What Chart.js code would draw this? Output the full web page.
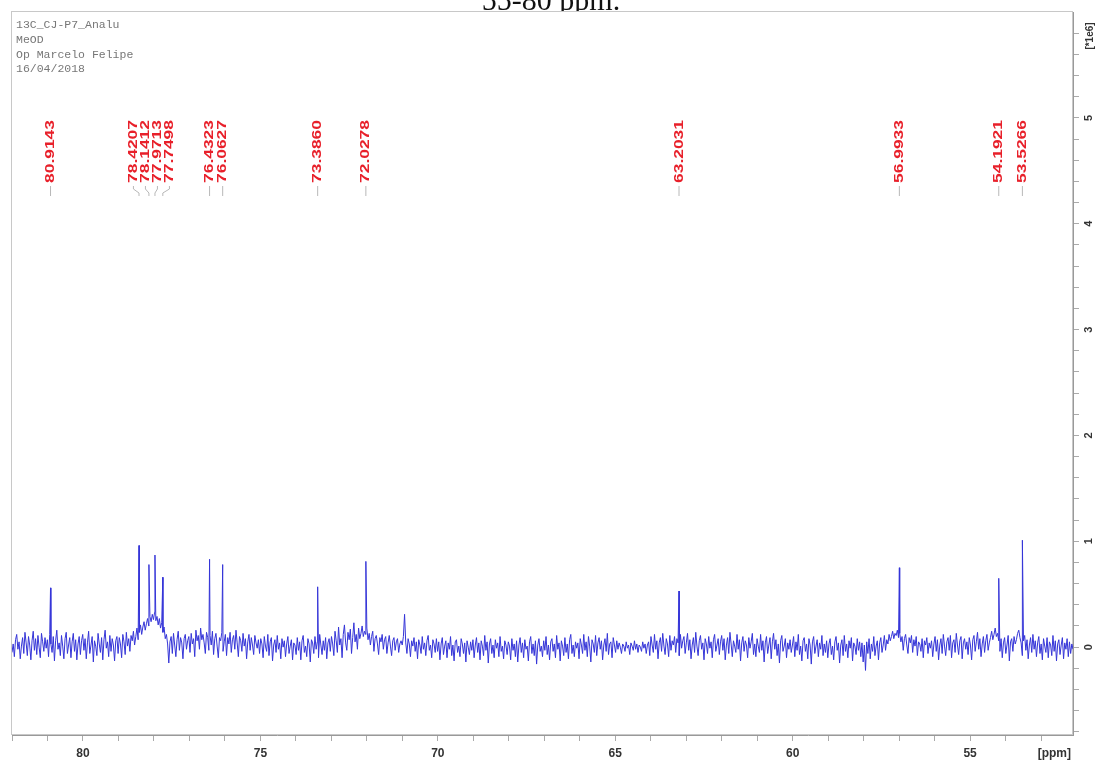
<!DOCTYPE html>
<html>
<head>
<meta charset="utf-8">
<title>13C NMR, 55-80 ppm</title>
<script src="https://cdn.jsdelivr.net/npm/chart.js@4.4.0/dist/chart.umd.min.js"></script>
<style>
  html, body { margin: 0; padding: 0; background: #fff; }
  canvas { display: block; }
</style>
</head>
<body>
<canvas id="spectrum" width="1098" height="764"></canvas>
<script>
// spectral window in ppm (drawn high -> low, left to right)
const ppmLeft = 82.0;
const ppmRight = 52.1;

// intensity window, units of 1e6
const intMin = -0.83;
const intMax = 6.0;

// picked peaks
const peakPpm = [80.9143, 78.4207, 78.1412, 77.9713, 77.7498, 76.4323, 76.0627,
                 73.3860, 72.0278, 63.2031, 56.9933, 54.1921, 53.5266];
const peakHeight = [0.56, 0.96, 0.78, 0.87, 0.66, 0.83, 0.78,
                    0.57, 0.81, 0.53, 0.75, 0.65, 1.01];

// baseline / noise, evenly sampled from ppmLeft to ppmRight (30 points ~ 1 ppm per row)
const baseline = [
  -0.05, 0.03, -0.09, 0.07, 0.12, -0.02, 0.05, -0.11, 0.01, 0.09, -0.06, 0.14, 0.04, -0.08, 0.10, 0.02, -0.12, 0.06, 0.15, -0.03, 0.08, -0.07, 0.11, 0.00, -0.10, 0.13, 0.05, -0.04, 0.09, -0.01,
  0.07, -0.09, 0.12, 0.03, -0.05, 0.10, -0.13, 0.06, 0.16, -0.02, 0.04, -0.08, 0.11, 0.01, -0.11, 0.08, 0.14, -0.06, 0.02, 0.09, -0.10, 0.05, 0.13, -0.04, 0.07, -0.12, 0.03, 0.10, -0.07, 0.06,
  0.12, -0.03, 0.08, -0.11, 0.04, 0.15, -0.06, 0.02, 0.10, -0.14, 0.06, 0.01, -0.08, 0.13, 0.03, -0.05, 0.09, -0.12, 0.07, 0.16, -0.01, 0.05, -0.09, 0.11, -0.04, 0.08, 0.02, -0.13, 0.06, 0.10,
  -0.06, 0.09, 0.03, -0.10, 0.12, 0.05, -0.07, 0.14, 0.01, 0.08, -0.04, 0.11, 0.06, 0.15, 0.02, 0.10, 0.18, 0.07, 0.14, 0.21, 0.12, 0.19, 0.24, 0.16, 0.22, 0.27, 0.20, 0.29, 0.24, 0.31,
  0.26, 0.33, 0.25, 0.29, 0.21, 0.27, 0.18, 0.23, 0.14, 0.19, 0.08, 0.12, 0.03, -0.15, 0.05, 0.10, -0.06, 0.13, 0.02, -0.09, 0.07, 0.15, -0.03, 0.09, 0.04, -0.11, 0.08, 0.12, -0.02, 0.06,
  0.10, -0.05, 0.13, 0.03, 0.08, -0.09, 0.16, 0.06, 0.11, -0.02, 0.18, 0.07, 0.12, 0.04, -0.06, 0.14, 0.09, -0.03, 0.11, 0.02, 0.15, -0.07, 0.08, 0.13, 0.01, -0.10, 0.09, 0.06, 0.14, -0.04,
  0.05, 0.12, -0.08, 0.09, 0.03, 0.14, -0.05, 0.07, 0.11, -0.02, 0.16, 0.04, -0.09, 0.10, 0.06, -0.04, 0.13, 0.01, 0.08, -0.11, 0.05, 0.12, -0.03, 0.09, 0.02, -0.07, 0.11, 0.04, -0.01, 0.07,
  -0.06, 0.08, 0.03, -0.10, 0.10, 0.01, -0.04, 0.12, -0.08, 0.05, 0.09, -0.13, 0.02, 0.07, -0.05, 0.11, -0.02, 0.04, -0.11, 0.08, 0.00, 0.06, -0.09, 0.03, 0.10, -0.06, 0.01, 0.07, -0.12, 0.04,
  0.02, -0.07, 0.09, -0.03, 0.05, -0.12, 0.06, 0.11, -0.05, 0.01, -0.09, 0.08, 0.03, -0.14, 0.07, 0.04, -0.06, 0.10, -0.02, 0.05, -0.10, 0.12, 0.02, -0.07, 0.06, -0.03, 0.09, -0.11, 0.04, 0.08,
  -0.04, 0.10, 0.03, -0.08, 0.15, 0.06, -0.05, 0.19, 0.02, 0.08, -0.10, 0.12, 0.21, 0.04, -0.03, 0.14, 0.07, 0.17, -0.06, 0.09, 0.23, 0.05, 0.12, -0.02, 0.18, 0.08, 0.13, 0.20, 0.10, 0.15,
  0.12, 0.18, 0.07, 0.13, 0.02, 0.10, 0.15, -0.04, 0.08, 0.11, 0.03, -0.07, 0.09, 0.05, 0.12, -0.02, 0.07, 0.10, -0.06, 0.04, 0.11, 0.01, -0.08, 0.06, 0.09, -0.03, 0.05, 0.08, -0.05, 0.03,
  0.06, 0.02, 0.10, 0.31, 0.04, -0.06, 0.08, 0.03, -0.09, 0.06, 0.01, 0.09, -0.04, 0.05, -0.11, 0.07, 0.02, -0.06, 0.10, -0.02, 0.04, -0.08, 0.06, 0.11, -0.03, 0.02, -0.10, 0.07, 0.03, -0.05,
  0.08, -0.04, 0.05, -0.12, 0.03, 0.09, -0.07, 0.01, 0.06, -0.10, 0.04, -0.02, 0.10, -0.08, 0.02, -0.13, 0.05, 0.07, -0.05, 0.01, -0.09, 0.08, 0.03, -0.06, 0.04, -0.14, 0.06, 0.00, -0.07, 0.05,
  -0.03, 0.07, -0.10, 0.02, 0.09, -0.05, 0.04, -0.12, 0.06, 0.01, -0.08, 0.11, -0.03, 0.05, -0.15, 0.03, 0.08, -0.06, 0.02, -0.10, 0.07, -0.01, 0.04, -0.09, 0.10, -0.04, 0.01, -0.11, 0.06, 0.02,
  -0.07, 0.05, 0.01, -0.12, 0.08, -0.03, 0.03, -0.09, 0.06, -0.14, 0.02, 0.09, -0.05, 0.04, -0.10, 0.07, -0.02, 0.01, -0.13, 0.05, 0.10, -0.06, 0.03, -0.08, 0.06, -0.16, 0.02, 0.08, -0.04, 0.01,
  -0.09, 0.06, -0.03, 0.10, -0.07, 0.02, -0.12, 0.05, 0.08, -0.04, 0.03, -0.10, 0.11, -0.02, 0.04, -0.13, 0.06, 0.01, -0.08, 0.09, -0.05, 0.03, -0.11, 0.07, 0.12, -0.06, 0.02, -0.09, 0.05, -0.01,
  0.04, -0.11, 0.08, 0.02, -0.06, 0.12, -0.03, 0.05, -0.09, 0.10, 0.01, -0.14, 0.07, 0.03, -0.05, 0.11, -0.08, 0.04, 0.09, -0.02, 0.06, -0.12, 0.02, 0.08, -0.04, 0.13, -0.07, 0.03, 0.05, -0.10,
  0.09, 0.02, -0.05, 0.06, -0.02, 0.04, 0.00, -0.06, 0.03, 0.01, -0.04, 0.05, -0.01, 0.02, -0.07, 0.04, 0.01, -0.03, 0.06, -0.02, 0.03, -0.05, 0.02, 0.00, -0.04, 0.05, -0.01, 0.03, -0.06, 0.02,
  0.05, -0.08, 0.10, 0.02, -0.05, 0.12, -0.02, 0.06, -0.11, 0.04, 0.09, -0.04, 0.13, 0.01, -0.07, 0.08, 0.03, -0.09, 0.11, -0.03, 0.06, 0.02, 0.10, -0.05, 0.08, 0.04, -0.08, 0.12, -0.01, 0.06,
  0.10, -0.06, 0.04, 0.13, -0.03, 0.07, -0.11, 0.02, 0.09, -0.05, 0.14, 0.01, -0.08, 0.06, 0.11, -0.02, 0.04, -0.12, 0.08, 0.03, -0.06, 0.10, -0.01, 0.05, -0.10, 0.07, 0.12, -0.04, 0.02, 0.08,
  -0.07, 0.05, 0.11, -0.03, 0.08, -0.12, 0.02, 0.09, -0.06, 0.14, 0.03, -0.09, 0.06, 0.01, -0.05, 0.12, -0.02, 0.07, -0.13, 0.04, 0.10, -0.04, 0.06, 0.02, -0.10, 0.09, -0.01, 0.05, 0.13, -0.07,
  0.03, -0.09, 0.08, 0.01, -0.05, 0.12, -0.03, 0.06, -0.14, 0.04, 0.10, -0.06, 0.02, 0.09, -0.11, 0.05, 0.13, -0.02, 0.07, -0.08, 0.03, -0.15, 0.06, 0.11, -0.04, 0.01, 0.08, -0.10, 0.04, -0.02,
  0.07, -0.05, 0.02, 0.10, -0.09, 0.05, -0.03, 0.12, -0.07, 0.01, -0.13, 0.06, 0.09, -0.04, 0.03, -0.11, 0.08, 0.02, -0.16, 0.05, 0.10, -0.06, 0.01, 0.07, -0.09, 0.04, -0.02, 0.11, -0.08, 0.03,
  -0.05, 0.06, -0.10, 0.03, 0.08, -0.07, 0.01, -0.12, 0.05, 0.10, -0.03, 0.04, -0.15, 0.02, 0.07, -0.08, 0.11, -0.04, 0.03, -0.10, 0.06, -0.01, 0.09, -0.13, 0.04, 0.01, -0.07, 0.08, -0.03, 0.05,
  -0.09, 0.04, -0.14, 0.02, -0.22, 0.05, -0.06, 0.08, -0.11, 0.03, -0.04, 0.10, -0.08, 0.01, 0.06, -0.12, 0.04, 0.09, -0.05, 0.02, 0.11, -0.03, 0.07, 0.03, 0.12, 0.06, 0.10, 0.15, 0.08, 0.13,
  0.11, 0.16, 0.09, 0.13, 0.05, 0.10, -0.03, 0.08, 0.12, 0.02, -0.06, 0.09, 0.04, 0.11, -0.05, 0.07, 0.01, 0.10, -0.08, 0.05, 0.03, -0.04, 0.08, -0.10, 0.06, 0.02, 0.09, -0.06, 0.04, -0.01,
  0.06, -0.09, 0.03, 0.10, -0.04, 0.07, -0.12, 0.02, 0.08, -0.06, 0.12, 0.01, -0.08, 0.05, 0.09, -0.03, 0.11, -0.10, 0.04, 0.07, -0.05, 0.13, 0.02, -0.07, 0.06, 0.10, -0.11, 0.04, 0.08, -0.02,
  0.05, -0.07, 0.09, 0.02, -0.12, 0.07, 0.11, -0.04, 0.05, 0.14, -0.02, 0.08, -0.09, 0.03, 0.10, -0.05, 0.06, 0.12, -0.03, 0.04, 0.09, 0.15, 0.07, 0.12, 0.18, 0.10, 0.13, 0.06, -0.04, 0.08,
  -0.10, 0.04, 0.09, -0.06, 0.02, 0.11, -0.13, 0.05, 0.08, -0.04, 0.10, 0.03, 0.07, 0.13, 0.16, 0.09, 0.04, -0.08, 0.06, 0.11, -0.03, 0.07, -0.11, 0.02, 0.09, -0.05, 0.12, -0.02, 0.06, -0.09,
  0.04, 0.10, -0.06, 0.03, -0.12, 0.08, 0.01, -0.05, 0.09, -0.10, 0.05, 0.02, -0.08, 0.11, -0.04, 0.06, -0.13, 0.03, 0.07, -0.07, 0.02, 0.09, -0.11, 0.04, -0.02, 0.08, -0.09, 0.05, -0.06, 0.03,
  -0.02
];

const xTickLabels = [80, 75, 70, 65, 60, 55];
const yTickLabels = [0, 1, 2, 3, 4, 5];

const headerLines = ['13C_CJ-P7_Analu', 'MeOD', 'Op Marcelo Felipe', '16/04/2018'];
const caption = '55-80 ppm.';

const SANS = "Arial, 'Liberation Sans', sans-serif";


function buildSpectrum() {
    const step = (ppmLeft - ppmRight) / (baseline.length - 1);
    const pts = baseline.map((v, i) => ({ x: ppmLeft - i * step, y: v }));
    peakPpm.forEach((p, k) => pts.push({ x: p, y: peakHeight[k] }));
    pts.sort((a, b) => b.x - a.x);
    return pts;
}

/*
   fan out label columns that sit closer than `gap` pixels
   xs : pixel positions, ascending
   return : new positions, same order
*/
function spreadColumns(xs, gap) {
    let groups = xs.map((x, i) => ({ items: [i], center: x }));
    let merged = true;
    while (merged) {
        merged = false;
        for (let g = 0; g < groups.length - 1; g++) {
            const a = groups[g], b = groups[g + 1];
            const aEnd = a.center + (a.items.length - 1) * gap / 2;
            const bStart = b.center - (b.items.length - 1) * gap / 2;
            if (bStart - aEnd < gap) {
                const items = a.items.concat(b.items);
                const center = items.reduce((s, i) => s + xs[i], 0) / items.length;
                groups.splice(g, 2, { items, center });
                merged = true;
                break;
            }
        }
    }
    const out = [];
    groups.forEach(g => g.items.forEach((i, k) => {
        out[i] = g.center + (k - (g.items.length - 1) / 2) * gap;
    }));
    return out;
}


// frame, header text, peak labels, right-hand scale labels
const decorations = {
    id: 'decorations',
    beforeDraw(chart) {
        const { ctx, chartArea: a } = chart;
        ctx.save();
        ctx.fillStyle = '#fff';
        ctx.fillRect(0, 0, chart.width, chart.height);

        // caption of the page above, cut by the frame
        ctx.beginPath();
        ctx.rect(0, 0, chart.width, 11);
        ctx.clip();
        ctx.fillStyle = '#111';
        ctx.font = "30px 'Liberation Serif', 'Times New Roman', serif";
        ctx.textAlign = 'center';
        ctx.textBaseline = 'alphabetic';
        ctx.fillText(caption, 551, 10);
        ctx.restore();

        ctx.save();
        ctx.strokeStyle = '#c8c8c8';
        ctx.lineWidth = 1;
        ctx.strokeRect(a.left - 0.5, a.top - 0.5, a.right - a.left, a.bottom - a.top);
        ctx.restore();
    },
    afterDraw(chart) {
        const { ctx, chartArea: a } = chart;
        const xs = chart.scales.x, ys = chart.scales.y;

        ctx.save();
        ctx.fillStyle = '#777';
        ctx.font = "11.5px 'Liberation Mono', 'Courier New', monospace";
        ctx.textBaseline = 'middle';
        headerLines.forEach((t, i) => ctx.fillText(t, 16, 25 + i * 14.8));

        // peak list, labels stretched along their length
        const px = peakPpm.map(p => xs.getPixelForValue(p));
        const lx = spreadColumns(px, 12);
        const labelBottom = 183;
        ctx.font = 'bold 13px ' + SANS;
        ctx.fillStyle = '#e8202a';
        ctx.strokeStyle = '#b8b8b8';
        ctx.lineWidth = 1;
        peakPpm.forEach((p, k) => {
            ctx.save();
            ctx.translate(lx[k], labelBottom);
            ctx.rotate(-Math.PI / 2);
            ctx.scale(1.34, 1);
            ctx.textAlign = 'left';
            ctx.textBaseline = 'middle';
            ctx.fillText(p.toFixed(4), 0, 0);
            ctx.restore();

            ctx.beginPath();
            ctx.moveTo(lx[k], 186);
            ctx.lineTo(lx[k], 189);
            ctx.lineTo(px[k], 193);
            ctx.lineTo(px[k], 196);
            ctx.stroke();
        });

        // intensity scale labels, written sideways
        ctx.fillStyle = '#333';
        ctx.font = 'bold 11px ' + SANS;
        ctx.textAlign = 'center';
        ctx.textBaseline = 'middle';
        yTickLabels.forEach(v => {
            ctx.save();
            ctx.translate(a.right + 16, ys.getPixelForValue(v));
            ctx.rotate(-Math.PI / 2);
            ctx.fillText(String(v), 0, 0);
            ctx.restore();
        });
        ctx.save();
        ctx.translate(a.right + 17, 36);
        ctx.rotate(-Math.PI / 2);
        ctx.font = 'bold 10px ' + SANS;
        ctx.fillText('[*1e6]', 0, 0);
        ctx.restore();

        ctx.font = 'bold 12px ' + SANS;
        ctx.textAlign = 'right';
        ctx.fillText('[ppm]', a.right - 2, 754);
        ctx.restore();
    }
};


function build_spectrum_chart(ctx) {

    Chart.defaults.plugins.legend.display = false;
    new Chart(ctx, {
        type: 'line',
        data: {
            datasets: [{
                data: buildSpectrum(),
                borderColor: '#3535d8',
                borderWidth: 1,
                pointRadius: 0,
                tension: 0
            }]
        },
        options: {
            responsive: false,
            animation: false,
            layout: {
                padding: { left: 12, top: 12, right: 0, bottom: 0 }
            },
            plugins: {
                legend: { display: false },
                tooltip: { enabled: false }
            },
            scales: {
                x: {
                    type: 'linear',
                    reverse: true,
                    min: ppmRight,
                    max: ppmLeft,
                    afterFit(s) { s.height = 29; },
                    afterBuildTicks(s) {
                        const t = [];
                        for (let v = Math.ceil(ppmRight); v <= Math.floor(ppmLeft); v++) t.push({ value: v });
                        s.ticks = t;
                    },
                    grid: {
                        drawOnChartArea: false,
                        tickLength: 6,
                        color: '#aaa'
                    },
                    border: { color: '#999' },
                    ticks: {
                        autoSkip: false,
                        maxRotation: 0,
                        padding: 5,
                        color: '#333',
                        font: { family: SANS, size: 12, weight: 'bold' },
                        callback: v => xTickLabels.includes(v) ? String(v) : ''
                    }
                },
                y: {
                    position: 'right',
                    min: intMin,
                    max: intMax,
                    afterFit(s) { s.width = 25; },
                    afterBuildTicks(s) {
                        const t = [];
                        for (let k = Math.ceil(intMin * 5); k < intMax * 5; k++) t.push({ value: k / 5 });
                        s.ticks = t;
                    },
                    grid: {
                        drawOnChartArea: false,
                        tickLength: 6,
                        color: '#aaa'
                    },
                    border: { color: '#999' },
                    ticks: {
                        callback: () => ''
                    }
                }
            }
        },
        plugins: [decorations]
    });
}

build_spectrum_chart(document.getElementById('spectrum').getContext('2d'));
</script>
</body>
</html>
